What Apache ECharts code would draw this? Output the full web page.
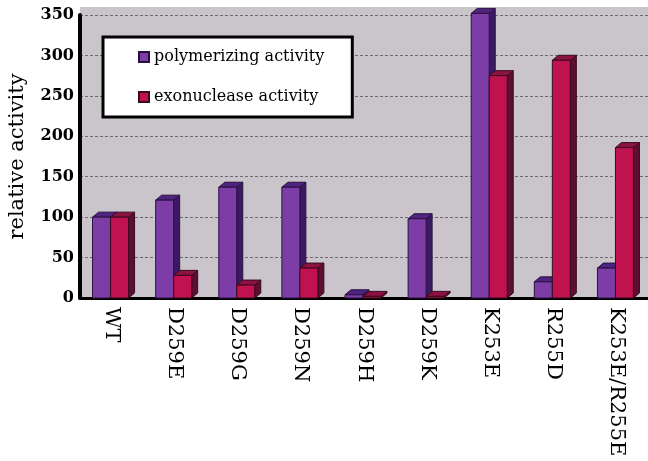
<!DOCTYPE html>
<html>
<head>
<meta charset="utf-8">
<script src="https://cdn.jsdelivr.net/npm/echarts@6/dist/echarts.min.js"></script>
<style>
html,body{margin:0;padding:0;background:#fff;}
#chart{width:648px;height:461px;}
</style>
</head>
<body>
<div id="chart"></div>
<script>
// mutants on the x axis
const categories=["WT","D259E","D259G","D259N","D259H","D259K","K253E","R255D","K253E/R255E"];

// relative activity
const polymerizing=[100,121,137,137,4,98,352,20,37];
const exonuclease=[100,28,16,37,2,2,275,294,186];

const yTicks=[0,50,100,150,200,250,300,350];

const seriesNames=["polymerizing activity","exonuclease activity"];

// front / side / top colours of the fake 3D bars
const palettes=[
    {front:"#7c3ea6",side:"#3b1a63",top:"#4e2480",edge:"#2a1040"},
    {front:"#c0124e",side:"#5c0f30",top:"#8c1240",edge:"#3a0a20"}
];

function makeBar(seriesIndex){

    const pal=palettes[seriesIndex];

    return function(params,api){

        const idx=api.value(0);
        const top=api.coord([idx,api.value(1)]);
        const base=api.coord([idx,0]);

        const cx=top[0];
        const x0=seriesIndex===0 ? cx-19 : cx-1;
        const w=18;
        const dx=6;
        const dy=-5;
        const yTop=top[1];
        const yBot=base[1];

        return {
            type:"group",
            children:[
                {
                    type:"polygon",
                    shape:{points:[[x0+w,yTop],[x0+w+dx,yTop+dy],[x0+w+dx,yBot+dy],[x0+w,yBot]]},
                    style:{fill:pal.side,stroke:pal.edge,lineWidth:1}
                },
                {
                    type:"polygon",
                    shape:{points:[[x0,yTop],[x0+dx,yTop+dy],[x0+w+dx,yTop+dy],[x0+w,yTop]]},
                    style:{fill:pal.top,stroke:pal.edge,lineWidth:1}
                },
                {
                    type:"rect",
                    shape:{x:x0,y:yTop,width:w,height:yBot-yTop},
                    style:{fill:pal.front,stroke:pal.edge,lineWidth:1}
                }
            ]
        };
    };
}

const chart=echarts.init(document.getElementById("chart"),null,{renderer:"canvas"});

chart.setOption({
    animation:false,
    backgroundColor:"#ffffff",
    graphic:[
        {
            type:"rect",
            z:-10,
            shape:{x:80,y:7,width:568,height:10},
            style:{fill:"#c9c5ca"}
        }
    ],
    grid:{
        left:80,
        right:0,
        top:15,
        bottom:163,
        outerBoundsMode:"none",
        containLabel:false,
        show:true,
        backgroundColor:"#c9c5ca",
        borderWidth:0
    },
    legend:{
        left:103,
        top:37,
        orient:"vertical",
        icon:"rect",
        itemWidth:10,
        itemHeight:10,
        itemGap:24,
        padding:[12,28,12,35],
        backgroundColor:"#ffffff",
        borderColor:"#000000",
        borderWidth:3,
        borderRadius:0,
        textStyle:{
            fontFamily:"DejaVu Serif",
            fontSize:16,
            color:"#000000"
        },
        data:seriesNames
    },
    xAxis:{
        type:"category",
        data:categories,
        axisLine:{lineStyle:{color:"#000000",width:3}},
        axisTick:{show:false},
        axisLabel:{
            rotate:-90,
            interval:0,
            margin:9,
            fontFamily:"DejaVu Serif",
            fontSize:21,
            color:"#000000"
        },
        splitLine:{show:false}
    },
    yAxis:{
        type:"value",
        min:0,
        max:350,
        interval:50,
        name:"relative activity",
        nameLocation:"middle",
        nameGap:52,
        nameTextStyle:{
            fontFamily:"DejaVu Serif",
            fontSize:21,
            color:"#000000"
        },
        axisLine:{show:true,lineStyle:{color:"#000000",width:4}},
        axisTick:{show:false},
        axisLabel:{
            margin:6,
            fontFamily:"DejaVu Serif",
            fontWeight:"bold",
            fontSize:16,
            color:"#000000",
            formatter:v=>yTicks.includes(v)?String(v):""
        },
        splitLine:{
            show:true,
            lineStyle:{color:"#6e6a70",type:[3,2],width:1}
        }
    },
    series:[
        {
            name:seriesNames[0],
            type:"custom",
            clip:false,
            itemStyle:{color:palettes[0].front,borderColor:palettes[0].edge,borderWidth:1},
            renderItem:makeBar(0),
            encode:{x:0,y:1},
            data:polymerizing.map((v,i)=>[i,v])
        },
        {
            name:seriesNames[1],
            type:"custom",
            clip:false,
            itemStyle:{color:palettes[1].front,borderColor:palettes[1].edge,borderWidth:1},
            renderItem:makeBar(1),
            encode:{x:0,y:1},
            data:exonuclease.map((v,i)=>[i,v])
        }
    ]
});
</script>
</body>
</html>
